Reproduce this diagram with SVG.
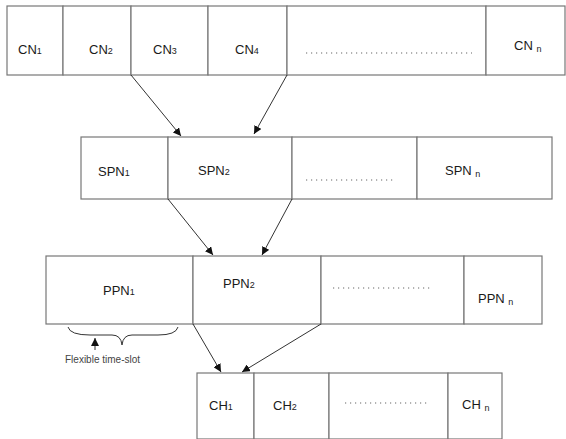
<svg xmlns="http://www.w3.org/2000/svg" width="566" height="439" viewBox="0 0 566 439">
<defs>
<style>
.box{fill:#fff;stroke:#777;stroke-width:1.2}
.t{font-family:"Liberation Sans",Arial,sans-serif;font-size:13px;fill:#1a1a1a}
.s{font-size:9px}
.dots{stroke:#666;stroke-width:1.2;stroke-dasharray:1.2 3.8}
.conn{stroke:#333;stroke-width:1;fill:none}
.lbl{font-family:"Liberation Sans",Arial,sans-serif;font-size:10px;fill:#444}
</style>
<marker id="ah" viewBox="0 0 10 10" refX="10" refY="5" markerWidth="8" markerHeight="8" markerUnits="userSpaceOnUse" orient="auto">
<path d="M0,0 L10,5 L0,10 z" fill="#111"/>
</marker>
</defs>
<rect width="566" height="439" fill="#fff"/>

<g id="row-cn">
<g id="cn1"><rect class="box" x="7" y="6" width="56" height="69"/><text class="t" x="18" y="54">CN<tspan class="s">1</tspan></text></g>
<g id="cn2"><rect class="box" x="63" y="6" width="68" height="69"/><text class="t" x="89" y="54">CN<tspan class="s">2</tspan></text></g>
<g id="cn3"><rect class="box" x="131" y="6" width="77" height="69"/><text class="t" x="153" y="54">CN<tspan class="s">3</tspan></text></g>
<g id="cn4"><rect class="box" x="208" y="6" width="79" height="69"/><text class="t" x="235" y="54">CN<tspan class="s">4</tspan></text></g>
<g id="cn-dots"><rect class="box" x="287" y="6" width="199" height="69"/><line class="dots" x1="306" y1="53" x2="472" y2="53"/></g>
<g id="cnn"><rect class="box" x="486" y="6" width="79" height="69"/><text class="t" x="514" y="50">CN <tspan class="s" dy="2">n</tspan></text></g>
</g>

<g id="row-spn">
<g id="spn1"><rect class="box" x="81" y="137" width="87" height="62"/><text class="t" x="98" y="176">SPN<tspan class="s">1</tspan></text></g>
<g id="spn2"><rect class="box" x="168" y="137" width="124" height="62"/><text class="t" x="198" y="175">SPN<tspan class="s">2</tspan></text></g>
<g id="spn-dots"><rect class="box" x="292" y="137" width="125" height="62"/><line class="dots" x1="306" y1="180" x2="394" y2="180"/></g>
<g id="spnn"><rect class="box" x="417" y="137" width="135" height="62"/><text class="t" x="445" y="175">SPN <tspan class="s" dy="2">n</tspan></text></g>
</g>

<g id="row-ppn">
<g id="ppn1"><rect class="box" x="46" y="256" width="147" height="68"/><text class="t" x="103" y="295">PPN<tspan class="s">1</tspan></text></g>
<g id="ppn2"><rect class="box" x="193" y="256" width="128" height="68"/><text class="t" x="223" y="288">PPN<tspan class="s">2</tspan></text></g>
<g id="ppn-dots"><rect class="box" x="321" y="256" width="143" height="68"/><line class="dots" x1="333" y1="288" x2="432" y2="288"/></g>
<g id="ppnn"><rect class="box" x="464" y="256" width="78" height="68"/><text class="t" x="478" y="303">PPN <tspan class="s" dy="2">n</tspan></text></g>
</g>

<g id="row-ch">
<g id="ch1"><rect class="box" x="197" y="373" width="57" height="66"/><text class="t" x="209" y="410">CH<tspan class="s">1</tspan></text></g>
<g id="ch2"><rect class="box" x="254" y="373" width="75" height="66"/><text class="t" x="273" y="410">CH<tspan class="s">2</tspan></text></g>
<g id="ch-dots"><rect class="box" x="329" y="373" width="119" height="66"/><line class="dots" x1="345" y1="403" x2="430" y2="403"/></g>
<g id="chn"><rect class="box" x="448" y="373" width="54" height="66"/><text class="t" x="462" y="409">CH <tspan class="s" dy="2">n</tspan></text></g>
</g>

<g id="connectors">
<line class="conn" x1="131" y1="75" x2="181" y2="136" marker-end="url(#ah)"/>
<line class="conn" x1="287" y1="75" x2="254" y2="134" marker-end="url(#ah)"/>
<line class="conn" x1="168" y1="199" x2="213" y2="255" marker-end="url(#ah)"/>
<line class="conn" x1="292" y1="199" x2="262" y2="255" marker-end="url(#ah)"/>
<line class="conn" x1="193" y1="324" x2="221" y2="372" marker-end="url(#ah)"/>
<line class="conn" x1="321" y1="324" x2="242" y2="372" marker-end="url(#ah)"/>
</g>

<g id="flexible-time-slot">
<path class="conn" stroke="#555" d="M68,327 Q70,335 90,335 L112,335 Q121,335 122,345 Q123,335 132,335 L158,335 Q176,335 178,327"/>
<line class="conn" x1="95" y1="350" x2="95" y2="338" marker-end="url(#ah)"/>
<text class="lbl" x="65" y="363">Flexible time-slot</text>
</g>
</svg>
